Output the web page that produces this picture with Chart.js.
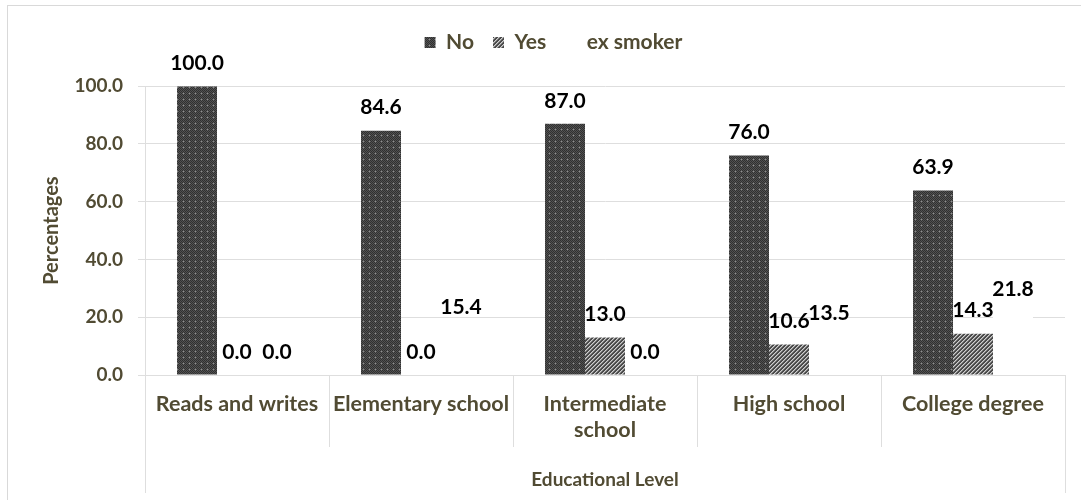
<!DOCTYPE html>
<html>
<head>
<meta charset="utf-8">
<script src="https://cdn.jsdelivr.net/npm/chart.js@4.4.1/dist/chart.umd.min.js"></script>
<style>
  body { margin: 0; background: #ffffff; }
  #frame { position: absolute; left: 7px; top: 5px; width: 1100px; height: 520px; border: 1px solid #d9d9d9; }
  #wrap { position: absolute; left: 0; top: 0; width: 1081px; height: 500px; }
</style>
</head>
<body>
<div id="frame"></div>
<div id="wrap"><canvas id="chart" width="1081" height="500"></canvas></div>
<script>
const categories = [['Reads and writes'], ['Elementary school'], ['Intermediate', 'school'], ['High school'], ['College degree']]
const noValues = [100.0, 84.6, 87.0, 76.0, 63.9]
const yesValues = [0.0, 0.0, 13.0, 10.6, 14.3]
const exSmokerValues = [0.0, 15.4, 0.0, 13.5, 21.8]
const seriesNames = ['No', 'Yes', 'ex smoker']

const textColor = '#514b33'
const lineColor = '#dedede'
const fontFamily = 'Lato, "Open Sans", sans-serif'

let canvas = document.getElementById('chart')
let ctx = canvas.getContext('2d')

// small repeating tiles for the hatched fills
function makePattern(size, paint) {
    let tile = document.createElement('canvas')
    tile.width = size
    tile.height = size
    let g = tile.getContext('2d')
    for (let y = 0; y < size; y++) {
        for (let x = 0; x < size; x++) {
            g.fillStyle = paint(x, y)
            g.fillRect(x, y, 1, 1)
        }
    }
    return ctx.createPattern(tile, 'repeat')
}

let noFill = makePattern(6, (x, y) => {
    if (x === 3 && y === 3) return '#8e8e8e'
    if ((x === 3 && (y === 2 || y === 4)) || (y === 3 && (x === 2 || x === 4))) return '#626262'
    return (x + y) % 2 === 0 ? '#303030' : '#525252'
})

let yesFill = makePattern(4, (x, y) => {
    let d = (x + y) % 4
    if (d === 3) return '#cfcfcf'
    if (d === 0) return '#8c8c8c'
    return '#4a4a4a'
})

// nudge the legend a little to the right of the canvas centre
const legendShift = {
    id: 'legendShift',
    afterLayout(chart) {
        chart.legend.left += 21
        chart.legend.right += 21
    }
}

// vertical separators under the x axis and the outer box of the category area
const categoryLines = {
    id: 'categoryLines',
    afterDraw(chart) {
        let xs = chart.scales.x
        let area = chart.chartArea
        let half = (xs.getPixelForValue(1) - xs.getPixelForValue(0)) / 2
        let c = chart.ctx
        c.save()
        c.strokeStyle = lineColor
        c.lineWidth = 1
        for (let i = 0; i <= categories.length; i++) {
            let x = Math.round(xs.getPixelForValue(i) - half) + 0.5
            let depth = (i === 0 || i === categories.length) ? 118 : 72
            c.beginPath()
            c.moveTo(x, area.bottom)
            c.lineTo(x, area.bottom + depth)
            c.stroke()
        }
        c.restore()
    }
}

// value labels above every bar
const valueLabels = {
    id: 'valueLabels',
    afterDatasetsDraw(chart) {
        let c = chart.ctx
        c.save()
        c.font = 'bold 21px ' + fontFamily
        c.fillStyle = '#000000'
        c.textAlign = 'center'
        c.textBaseline = 'middle'
        chart.data.datasets.forEach((ds, i) => {
            chart.getDatasetMeta(i).data.forEach((bar, j) => {
                c.fillText(ds.data[j].toFixed(1), bar.x, bar.y - 23)
            })
        })
        c.restore()
    }
}

let chart = new Chart(ctx, {
    type: 'bar',
    data: {
        labels: categories,
        datasets: [
            { label: seriesNames[0], data: noValues, backgroundColor: noFill, borderWidth: 0 },
            { label: seriesNames[1], data: yesValues, backgroundColor: yesFill, borderWidth: 0 },
            { label: seriesNames[2], data: exSmokerValues, backgroundColor: '#ffffff', borderWidth: 0 }
        ]
    },
    options: {
        responsive: false,
        animation: false,
        categoryPercentage: 0.652,
        barPercentage: 1,
        layout: { padding: { left: 0, right: 16, top: 13, bottom: 0 } },
        plugins: {
            tooltip: { enabled: false },
            legend: {
                position: 'top',
                labels: {
                    boxWidth: 11,
                    boxHeight: 11,
                    padding: 19,
                    color: textColor,
                    font: { family: fontFamily, size: 21, weight: 'bold' }
                }
            },
            // empty spacer between the legend and the plot
            subtitle: {
                display: true,
                text: ' ',
                weight: 500,
                padding: { top: 0, bottom: 22 },
                font: { size: 1 }
            }
        },
        scales: {
            x: {
                grid: { display: false, drawTicks: false },
                border: { display: false },
                ticks: {
                    color: textColor,
                    padding: 16,
                    font: { family: fontFamily, size: 21.5, weight: 'bold', lineHeight: 1.2 }
                },
                title: {
                    display: true,
                    text: 'Educational Level',
                    color: textColor,
                    padding: { top: 0, bottom: 9 },
                    font: { family: fontFamily, size: 19, weight: 'bold' }
                },
                afterFit: s => { s.height = 125 }
            },
            y: {
                min: 0,
                max: 100,
                ticks: {
                    stepSize: 20,
                    color: textColor,
                    padding: 15,
                    callback: v => v.toFixed(1),
                    font: { family: fontFamily, size: 19, weight: 'bold' }
                },
                grid: { color: lineColor, tickLength: 7 },
                border: { color: lineColor },
                title: {
                    display: true,
                    text: 'Percentages',
                    color: textColor,
                    padding: { top: 40, bottom: 0 },
                    font: { family: fontFamily, size: 20, weight: 'bold' }
                },
                afterFit: s => { s.width = 145 }
            }
        }
    },
    plugins: [legendShift, categoryLines, valueLabels]
})
</script>
</body>
</html>
